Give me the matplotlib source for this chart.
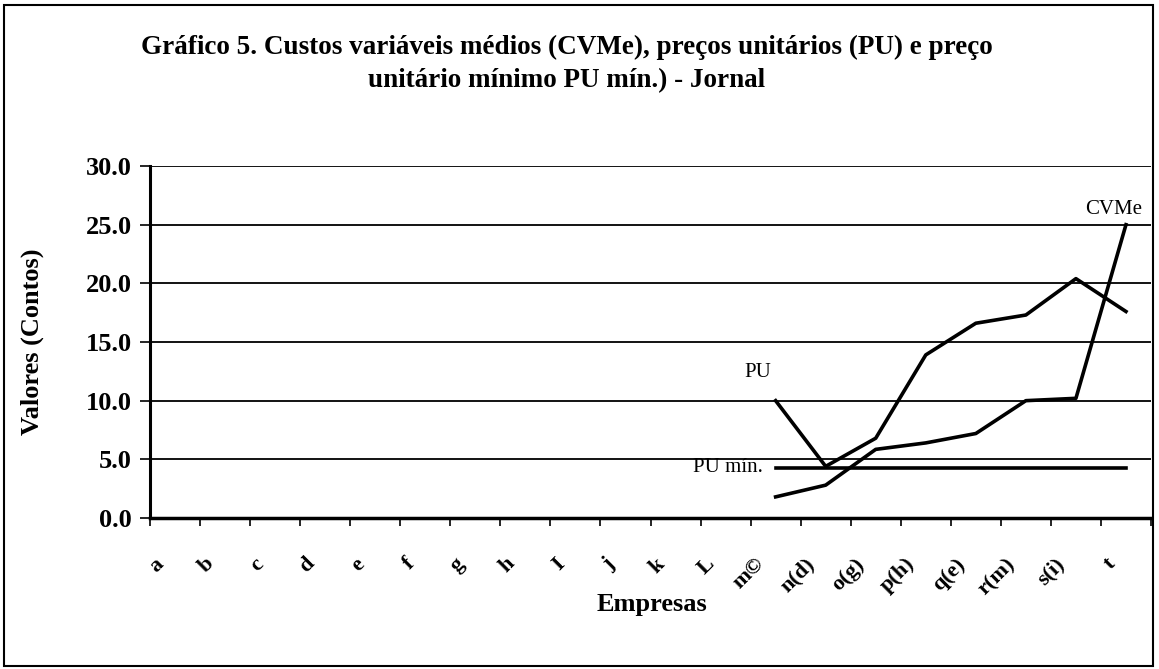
import numpy as np
import matplotlib
matplotlib.use("Agg")
from matplotlib import pyplot as plt
from matplotlib.patches import Rectangle

plt.rcParams['font.family'] = ['Liberation Serif', 'DejaVu Serif']

# data (companies a..L have no values)
empresas = ["a", "b", "c", "d", "e", "f", "g", "h", "I", "j", "k", "L",
            "m©", "n(d)", "o(g)", "p(h)", "q(e)", "r(m)", "s(i)", "t"]
nan = np.nan
pu = [nan] * 12 + [10.0, 4.4, 6.8, 13.9, 16.6, 17.3, 20.4, 17.6]
cvme = [nan] * 12 + [1.8, 2.8, 5.85, 6.4, 7.2, 10.0, 10.2, 25.0]
pu_min = [nan] * 12 + [4.3] * 8
yticks = [0, 5, 10, 15, 20, 25, 30]

W, H = 1159, 669
fig = plt.figure(figsize=(W / 100, H / 100), dpi=100)
ax = fig.add_axes([150 / W, 1 - 518 / H, (1151 - 150) / W, (518 - 166) / H])

x = np.arange(len(empresas))
ax.plot(x, pu, color="black", lw=2.6, solid_joinstyle="round")
ax.plot(x, cvme, color="black", lw=2.6, solid_joinstyle="round")
ax.plot(x, pu_min, color="black", lw=2.6)

ax.set_xlim(-0.5, len(empresas) - 0.5)
ax.set_ylim(0, 30)
ax.set_yticks(yticks)
ax.set_yticklabels([f"{v:.1f}" for v in yticks], fontsize=19, fontweight="bold")
ax.yaxis.grid(True, color="black", lw=1.3)
ax.set_axisbelow(True)

# category boundaries as ticks; labels sit a little left of the centers (invisible minor ticks)
ax.set_xticks(np.arange(-0.5, len(empresas)), labels=[])
ax.set_xticks(x - 0.42, minor=True)
ax.set_xticklabels(empresas, minor=True, rotation=45, ha="right",
                   rotation_mode="anchor", fontsize=16, fontweight="bold")
ax.tick_params(axis="x", which="minor", length=0, pad=26)
ax.tick_params(axis="x", which="major", length=6, width=1.2, direction="out")
ax.tick_params(axis="y", length=7, width=1.2, direction="out", pad=6)

for s in ["top", "right"]:
    ax.spines[s].set_visible(False)
ax.spines["left"].set_linewidth(2.2)
ax.spines["bottom"].set_linewidth(2.5)

ax.text(11.65, 12.4, "PU", fontsize=15, ha="center", va="center")
ax.text(11.75, 4.3, "PU mín.", fontsize=15, ha="right", va="center")
ax.text(18.76, 26.3, "CVMe", fontsize=15, ha="center", va="center")

ax.set_ylabel("Valores (Contos)", fontsize=19, fontweight="bold")
ax.yaxis.set_label_coords(-106 / 1001, 0.5)
fig.text(652 / W, 1 - 605 / H, "Empresas", fontsize=19, fontweight="bold",
         ha="center", va="center")
fig.text(567 / W, 1 - 64 / H,
         "Gráfico 5. Custos variáveis médios (CVMe), preços unitários (PU) e preço\n"
         "unitário mínimo PU mín.) - Jornal",
         fontsize=19.5, fontweight="bold", ha="center", va="center", linespacing=1.45)

fig.patches.append(Rectangle((4 / W, 3 / H), 1149 / W, 661 / H, transform=fig.transFigure,
                             fill=False, edgecolor="black", lw=1.5))

fig.savefig("out.png", dpi=100)
